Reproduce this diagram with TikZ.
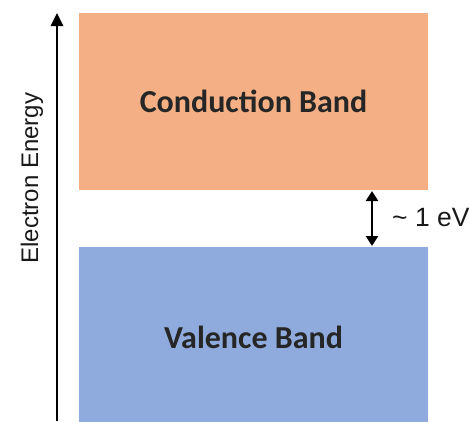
\documentclass[tikz,border=0pt]{standalone}
\usepackage{fontspec}
\setmainfont{Liberation Sans}
\newfontfamily\bandfont{Carlito}
\usetikzlibrary{arrows.meta}
\definecolor{cbcol}{HTML}{F4B084}
\definecolor{vbcol}{HTML}{8FAADC}
\tikzset{
  band/.style={draw=none, minimum width=349pt, inner sep=0pt, font=\bandfont\bfseries\fontsize{32}{36}\selectfont, text=black!85},
  axisarrow/.style={line width=2.8pt, -{Triangle[length=13pt,width=12pt]}},
  gaparrow/.style={line width=2.8pt, {Triangle[length=10pt,width=12pt]}-{Triangle[length=10pt,width=12pt]}},
  lbl/.style={font=\fontsize{24}{26}\selectfont, inner sep=0pt, text=black!90}
}
\begin{document}
\begin{tikzpicture}[x=1pt,y=-1pt]
\useasboundingbox (0,0) rectangle (469,421);
\node[band, fill=cbcol, minimum height=177pt] (cb) at (253.5,101.5) {Conduction Band};
\node[band, fill=vbcol, minimum height=176pt] (vb) at (253.5,335) {};
\node[font=\bandfont\bfseries\fontsize{32}{36}\selectfont, text=black!85, inner sep=0pt] (vbl) at (253.5,337) {Valence Band};
\coordinate (axbot) at (57,421);
\coordinate (axtop) at (57,13);
\draw[axisarrow] (axbot) -- (axtop);
\node[lbl, rotate=90] (ylab) at (32,178) {Electron Energy};
\coordinate (gtop) at (372,191);
\coordinate (gbot) at (372,246);
\draw[gaparrow] (gtop) -- (gbot);
\node[lbl, anchor=west, font=\fontsize{26.5}{28}\selectfont] (ev) at (392,218) {\textasciitilde\ 1 eV};
\end{tikzpicture}
\end{document}
